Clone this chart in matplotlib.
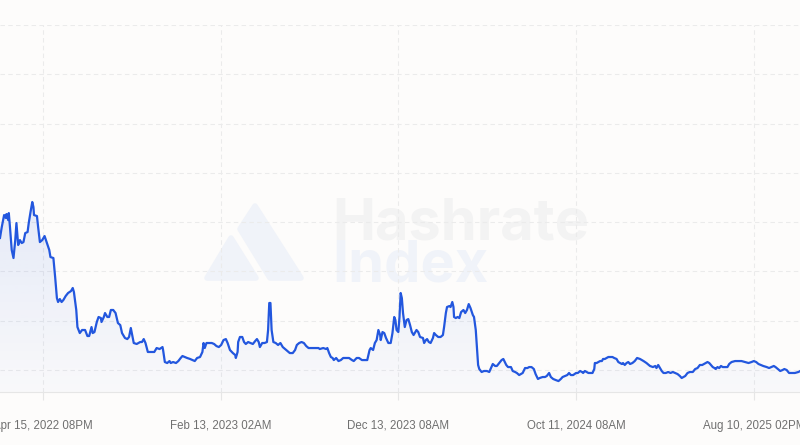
import numpy as np
import pandas as pd
import matplotlib
matplotlib.use("Agg")
import matplotlib.pyplot as plt
import matplotlib.dates as mdates
from matplotlib.patches import Polygon

# hashprice series (USD/PH/day), days counted from the first visible sample
start = pd.Timestamp("2022-02-02 01:00")
days = [0, 3, 7, 10, 11, 14, 15, 17, 20, 23, 26, 28, 31, 34, 37, 40, 43, 47, 49, 52,
        55, 57, 58, 63, 65, 68, 72, 76, 80, 84, 86, 91, 94, 97, 99, 102, 105, 108, 112, 116,
        121, 124, 126, 130, 132, 136, 140, 145, 149, 152, 156, 158, 161, 165, 168, 172, 173, 177, 179, 183,
        186, 189, 193, 197, 201, 205, 208, 213, 217, 220, 223, 226, 228, 233, 236, 239, 242, 245, 248, 252,
        256, 260, 263, 267, 272, 277, 278, 281, 285, 289, 291, 295, 300, 304, 308, 311, 315, 319, 324, 328,
        332, 336, 341, 345, 347, 349, 352, 356, 361, 365, 369, 373, 377, 381, 385, 388, 392, 397, 401, 402,
        405, 406, 409, 413, 416, 419, 423, 427, 431, 435, 438, 441, 443, 447, 451, 455, 457, 459, 461, 463,
        466, 470, 474, 478, 482, 486, 490, 494, 499, 503, 506, 510, 514, 518, 522, 526, 531, 537, 543, 545,
        551, 556, 558, 561, 564, 567, 569, 573, 577, 581, 585, 591, 595, 600, 603, 608, 612, 617, 622, 626,
        630, 632, 636, 639, 642, 645, 648, 649, 652, 655, 658, 662, 666, 669, 672, 674, 676, 679, 681, 683,
        685, 687, 690, 693, 696, 699, 702, 705, 707, 710, 713, 716, 721, 723, 726, 728, 731, 734, 738, 740,
        743, 747, 751, 755, 757, 760, 762, 766, 768, 771, 773, 774, 777, 780, 783, 786, 790, 793, 796, 799,
        802, 806, 808, 811, 813, 814, 815, 817, 821, 825, 830, 834, 837, 840, 844, 847, 851, 855, 858, 863,
        866, 871, 874, 878, 881, 885, 888, 891, 895, 899, 902, 906, 910, 913, 917, 920, 925, 929, 932, 936,
        939, 943, 947, 952, 956, 959, 963, 967, 970, 973, 977, 982, 985, 989, 992, 994, 997, 1000, 1003, 1006,
        1010, 1013, 1014, 1017, 1020, 1023, 1026, 1028, 1031, 1034, 1037, 1040, 1044, 1047, 1051, 1054, 1057, 1060, 1062, 1065,
        1068, 1071, 1074, 1078, 1082, 1086, 1091, 1097, 1102, 1108, 1113, 1117, 1119, 1122, 1125, 1128, 1131, 1135, 1139, 1143,
        1147, 1151, 1155, 1159, 1162, 1165, 1168, 1172, 1176, 1181, 1185, 1189, 1193, 1197, 1200, 1203, 1206, 1209, 1212, 1215,
        1218, 1220, 1223, 1226, 1229, 1232, 1236, 1240, 1243, 1247, 1253, 1259, 1264, 1270, 1276, 1281, 1285, 1289, 1293, 1297,
        1301, 1307, 1311, 1315, 1319, 1322, 1326, 1330, 1334, 1337, 1341, 1345, 1350, 1355, 1361, 1364]
hashprice = [184.0, 195.0, 207.2, 204.2, 208.2, 202.1, 209.2, 195.0, 171.7, 163.6, 181.8, 199.1, 176.8, 181.8, 178.8, 179.8, 188.9, 190.0, 199.1, 210.2,
             220.4, 215.3, 207.2, 206.2, 195.0, 179.8, 181.8, 185.9, 178.8, 171.7, 164.6, 163.6, 144.3, 123.0, 119.0, 122.0, 119.0, 121.0, 125.1, 128.1,
             130.1, 133.2, 129.1, 110.9, 93.6, 87.5, 90.6, 90.6, 84.5, 84.5, 93.6, 87.5, 88.5, 98.7, 103.8, 102.7, 98.7, 103.8, 107.8, 103.8,
             103.8, 110.9, 110.9, 107.8, 97.7, 95.6, 87.5, 82.5, 81.4, 83.5, 92.6, 83.5, 77.4, 76.4, 77.4, 78.4, 78.4, 81.4, 77.4, 68.3,
             68.3, 68.3, 68.3, 72.3, 71.3, 73.3, 70.3, 58.1, 57.1, 59.1, 57.1, 58.1, 57.1, 59.1, 62.2, 64.2, 63.2, 62.2, 61.2, 60.1,
             59.1, 62.2, 63.2, 68.3, 77.4, 72.3, 77.4, 77.4, 77.4, 76.4, 74.3, 73.3, 75.4, 80.4, 81.4, 77.4, 70.3, 67.2, 65.2, 62.2,
             68.3, 78.4, 83.5, 83.5, 78.4, 76.4, 78.4, 77.4, 76.4, 79.4, 81.4, 78.4, 73.3, 77.4, 77.4, 78.4, 90.6, 118.0, 118.0, 90.6,
             78.4, 77.4, 75.4, 77.4, 73.3, 71.3, 69.3, 67.2, 67.2, 70.3, 75.4, 77.4, 78.4, 77.4, 74.3, 72.3, 72.3, 72.3, 72.3, 71.3,
             72.3, 71.3, 72.3, 67.2, 63.2, 62.2, 60.1, 62.2, 59.1, 60.1, 62.2, 62.2, 62.2, 60.1, 59.1, 62.2, 62.2, 60.1, 60.1, 60.1,
             70.3, 72.3, 70.3, 77.4, 80.4, 90.6, 85.5, 80.4, 88.5, 87.5, 82.5, 77.4, 77.4, 87.5, 103.8, 100.7, 90.6, 88.5, 103.8, 128.1,
             123.0, 107.8, 93.6, 100.7, 101.7, 95.6, 88.5, 85.5, 87.5, 90.6, 88.5, 83.5, 82.5, 77.4, 80.4, 81.4, 78.4, 77.4, 82.5, 87.5,
             85.5, 83.5, 83.5, 85.5, 93.6, 107.8, 113.9, 114.9, 113.9, 119.0, 113.9, 103.8, 102.7, 103.8, 102.7, 108.8, 110.9, 107.8, 110.9, 116.9,
             112.9, 105.8, 103.8, 90.6, 73.3, 63.2, 55.1, 51.0, 48.0, 49.0, 49.0, 48.0, 52.0, 56.1, 54.1, 54.1, 57.1, 60.1, 61.2, 55.1,
             53.0, 53.0, 49.0, 48.0, 47.0, 44.9, 45.9, 47.0, 52.0, 52.0, 53.0, 53.0, 51.0, 45.9, 40.9, 41.9, 42.9, 42.9, 43.9, 47.0,
             42.9, 40.9, 39.9, 38.8, 40.9, 42.9, 43.9, 44.9, 47.0, 44.9, 44.9, 47.0, 47.0, 49.0, 48.0, 47.0, 49.0, 48.0, 47.0, 47.0,
             47.0, 51.0, 57.1, 57.1, 58.1, 59.1, 59.1, 61.2, 61.2, 62.2, 63.2, 63.2, 63.2, 62.2, 61.2, 58.1, 57.1, 56.1, 57.1, 55.1,
             57.1, 58.1, 56.1, 57.1, 59.1, 62.2, 61.2, 59.1, 57.1, 54.1, 53.0, 54.1, 52.0, 55.1, 52.0, 49.0, 47.0, 47.0, 48.0, 47.0,
             48.0, 47.0, 45.9, 43.9, 41.9, 42.9, 43.9, 47.0, 48.0, 48.0, 51.0, 52.0, 55.1, 55.1, 56.1, 57.1, 58.1, 57.1, 55.1, 53.0,
             52.0, 51.0, 53.0, 52.0, 54.1, 53.0, 53.0, 53.0, 56.1, 58.1, 59.1, 59.1, 59.1, 58.1, 57.1, 58.1, 59.1, 58.1, 56.1, 55.1,
             54.1, 53.0, 52.0, 53.0, 54.1, 53.0, 51.0, 49.0, 50.0, 51.0, 50.0, 47.0, 47.0, 47.0, 48.0, 49.0]

tick_dates = ["2022-04-15 20:00", "2023-02-13 02:00", "2023-12-13 08:00",
              "2024-10-11 08:00", "2025-08-10 14:00"]
tick_labels = ["Apr 15, 2022 08PM", "Feb 13, 2023 02AM", "Dec 13, 2023 08AM",
               "Oct 11, 2024 08AM", "Aug 10, 2025 02PM"]
grid_values = [50, 100, 150, 200, 250, 300, 350, 400]

y_min, y_max = 27.7, 400
span_days = 1363.7

bg = "#fdfcfb"
blue = "#2357de"

x = mdates.date2num(start + pd.to_timedelta(days, unit="D"))
y = np.array(hashprice)

fig = plt.figure(figsize=(8, 4.45), dpi=100, facecolor=bg)
ax = fig.add_axes([0, 53 / 445, 1, 367 / 445])
ax.set_facecolor("none")

x0 = mdates.date2num(start)
x1 = mdates.date2num(start + pd.Timedelta(days=span_days))
ax.set_xlim(x0, x1)
ax.set_ylim(y_min, y_max)

# gradient fill under the line
verts = [(x[0], y_min)] + list(zip(x, y)) + [(x[-1], y_min)]
clip = Polygon(verts, closed=True, facecolor="none", edgecolor="none", transform=ax.transData)
ax.add_patch(clip)
ramp = np.linspace(0.02, 0.11, 256)
grad = np.zeros((256, 1, 4))
grad[:, 0, :3] = matplotlib.colors.to_rgb(blue)
grad[:, 0, 3] = ramp
im = ax.imshow(grad, extent=[x0, x1, y_min, y.max()], origin="lower", aspect="auto",
               interpolation="bilinear", zorder=2)
im.set_clip_path(clip)

ax.plot(x, y, color=blue, lw=1.6, solid_joinstyle="round", zorder=3)

# axes styling
ax.set_xticks(mdates.date2num(pd.to_datetime(tick_dates)))
ax.set_xticklabels(tick_labels, fontsize=8.3, color="#707070", family="Liberation Sans")
ax.set_yticks(grid_values)
ax.tick_params(axis="y", length=0, labelleft=False)
ax.tick_params(axis="x", length=6, width=0.8, color="#e6e6e6", pad=14)
ax.grid(True, color="#ebebeb", lw=0.8, linestyle=(0, (4, 3)))
ax.set_axisbelow(True)
for s in ["top", "left", "right"]:
    ax.spines[s].set_visible(False)
ax.spines["bottom"].set_color("#e6e6e6")
ax.spines["bottom"].set_linewidth(0.8)

# watermark
def px(pts):
    return [(a / 800, (445 - b) / 445) for a, b in pts]

logo_col = "#f0f3f9"
small = Polygon(px([(231, 238), (207, 278), (256, 278)]), closed=True, transform=fig.transFigure,
                facecolor=logo_col, edgecolor=logo_col, lw=4, joinstyle="round", zorder=-1)
big = Polygon(px([(255, 206), (301, 278), (270, 278), (240, 229)]), closed=True, transform=fig.transFigure,
              facecolor=logo_col, edgecolor=logo_col, lw=4, joinstyle="round", zorder=-1)
fig.add_artist(small)
fig.add_artist(big)
fig.text(332 / 800, (445 - 239) / 445, "Hashrate", fontsize=41.5, fontweight="bold", family="Inter",
         color="#f3f3f3", ha="left", va="baseline", zorder=-1)
fig.text(332 / 800, (445 - 282) / 445, "Index", fontsize=41.5, fontweight="bold", family="Inter",
         color="#f0f3f9", ha="left", va="baseline", zorder=-1)

fig.savefig("out.png", dpi=100, facecolor=bg)
